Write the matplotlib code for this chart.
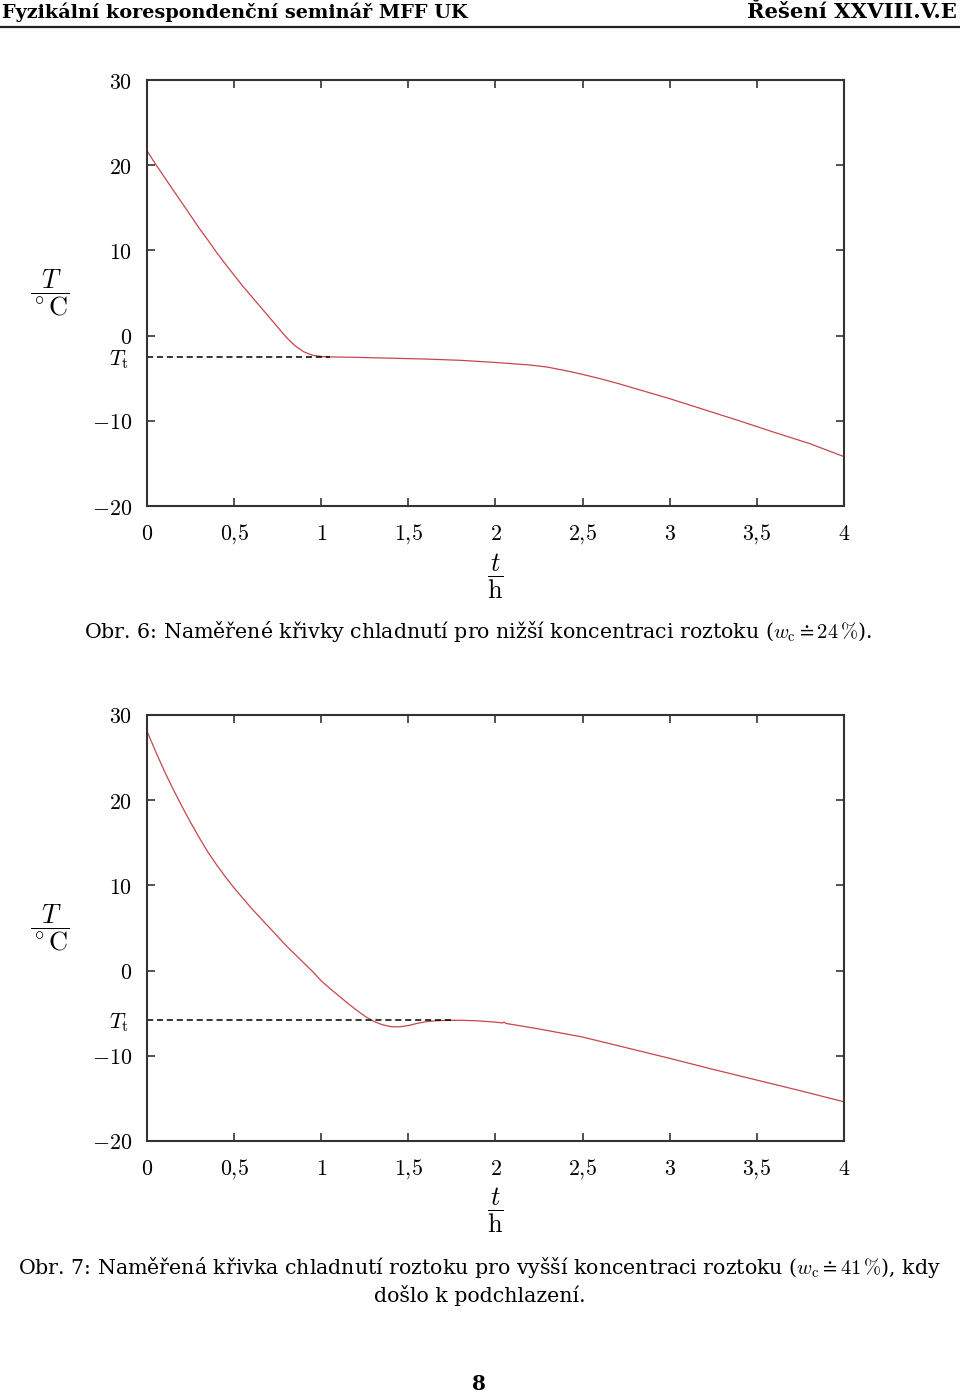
import matplotlib
matplotlib.use("Agg")
import matplotlib.pyplot as plt
import matplotlib.transforms as mtransforms

plt.rcParams['font.family'] = ['DejaVu Serif']
plt.rcParams['mathtext.fontset'] = 'cm'

# data
# Obr. 6 (lower concentration)
t1 = [0.0, 0.05, 0.1, 0.15, 0.2, 0.25, 0.3, 0.35, 0.4, 0.45, 0.5, 0.55, 0.6, 0.65,
      0.7, 0.75, 0.8, 0.85, 0.9, 0.95, 1.0, 1.05, 1.2, 1.4, 1.6, 1.8, 2.0, 2.1, 2.2,
      2.3, 2.4, 2.5, 2.6, 2.7, 2.8, 3.0, 3.2, 3.4, 3.6, 3.8, 4.0]
T1 = [21.7, 20.1, 18.6, 17.1, 15.6, 14.1, 12.6, 11.2, 9.75, 8.4, 7.1, 5.8, 4.6, 3.4,
      2.2, 1.0, -0.2, -1.2, -1.9, -2.3, -2.45, -2.5, -2.55, -2.65, -2.75, -2.9, -3.15, -3.3, -3.45,
      -3.7, -4.1, -4.55, -5.05, -5.6, -6.2, -7.4, -8.7, -10.0, -11.35, -12.65, -14.2]
Tt1 = -2.5
Tt1_end = 1.05

# Obr. 7 (higher concentration, supercooling)
t2 = [0.0, 0.05, 0.1, 0.15, 0.2, 0.25, 0.3, 0.35, 0.4, 0.45, 0.5, 0.55, 0.6, 0.65,
      0.7, 0.75, 0.8, 0.85, 0.9, 0.95, 1.0, 1.05, 1.1, 1.15, 1.2, 1.25, 1.3, 1.35,
      1.4, 1.45, 1.5, 1.55, 1.6, 1.65, 1.7, 1.8, 1.9, 2.0, 2.04, 2.05, 2.06, 2.25,
      2.5, 2.75, 3.0, 3.25, 3.5, 3.75, 4.0]
T2 = [28.1, 25.7, 23.4, 21.3, 19.3, 17.4, 15.6, 13.9, 12.4, 11.0, 9.7, 8.5, 7.3, 6.2,
      5.1, 4.0, 2.9, 1.9, 0.9, -0.1, -1.2, -2.1, -2.95, -3.8, -4.6, -5.35, -5.95, -6.35,
      -6.58, -6.6, -6.45, -6.2, -6.0, -5.9, -5.85, -5.83, -5.9, -6.05, -6.15, -6.05, -6.2, -6.85,
      -7.8, -9.05, -10.3, -11.6, -12.85, -14.1, -15.4]
Tt2 = -5.8
Tt2_end = 1.77

xticks = [0, 0.5, 1, 1.5, 2, 2.5, 3, 3.5, 4]
xticklabels = ['0', '0,5', '1', '1,5', '2', '2,5', '3', '3,5', '4']
yticks = [30, 20, 10, 0, -10, -20]

curve_color = '#c8464b'

fig = plt.figure(figsize=(9.6, 13.94), dpi=100)

# page header
fig.text(0.002, 0.9914, 'Fyzikální korespondenční seminář MFF UK', fontsize=13.9,
         fontweight='bold', ha='left', va='center')
fig.text(0.997, 0.9914, 'Řešení XXVIII.V.E', fontsize=15.2, fontweight='bold',
         ha='right', va='center')
fig.add_artist(plt.Line2D([0, 1], [0.9806, 0.9806], color='#222222', lw=1.6))


def draw_panel(ax, t, T, Tt, Tt_end):
    ax.plot(t, T, color=curve_color, lw=0.9)
    ax.plot([0, Tt_end], [Tt, Tt], color='black', lw=1.1, ls=(0, (4, 2.5)))
    ax.set_xlim(0, 4)
    ax.set_ylim(-20, 30)
    ax.set_xticks(xticks)
    ax.set_xticklabels(['$' + s.replace(',', '{,}') + '$' for s in xticklabels])
    ax.set_yticks(yticks)
    ax.set_yticklabels(['$' + str(v) + '$' for v in yticks])
    ax.tick_params(direction='in', length=6, width=1.1, top=True, right=True,
                   labelsize=15.8, color='#222222')
    ax.tick_params(axis='x', pad=12)
    ax.tick_params(axis='y', pad=11)
    for sp in ax.spines.values():
        sp.set_linewidth(1.5)
        sp.set_color('#333333')
    trans = mtransforms.blended_transform_factory(ax.transAxes, ax.transData)
    ax.text(-0.026, Tt - 0.3, r'$T_\mathrm{t}$', transform=trans, ha='right', va='center',
            fontsize=15.8)
    ax.text(-0.139, 0.5, r'$\dfrac{T}{{}^\circ\mathrm{C}}$', transform=ax.transAxes,
            ha='center', va='center', fontsize=19)
    ax.text(0.5, -0.164, r'$\dfrac{t}{\mathrm{h}}$', transform=ax.transAxes,
            ha='center', va='center', fontsize=19)


ax1 = fig.add_axes([0.1531, 0.6370, 0.7260, 0.3056])
draw_panel(ax1, t1, T1, Tt1, Tt1_end)

ax2 = fig.add_axes([0.1531, 0.1815, 0.7260, 0.3056])
draw_panel(ax2, t2, T2, Tt2, Tt2_end)

fig.text(0.498, 1 - 632 / 1394,
         r'Obr. 6: Naměřené křivky chladnutí pro nižší koncentraci roztoku ($w_\mathrm{c} \doteq 24\,\%$).',
         ha='center', va='center', fontsize=14.8)
fig.text(0.5, 1 - 1267 / 1394,
         r'Obr. 7: Naměřená křivka chladnutí roztoku pro vyšší koncentraci roztoku ($w_\mathrm{c} \doteq 41\,\%$), kdy',
         ha='center', va='center', fontsize=14.8)
fig.text(0.5, 1 - 1295 / 1394, 'došlo k podchlazení.', ha='center', va='center', fontsize=14.8)

fig.text(0.499, 1 - 1384 / 1394, '8', ha='center', va='center', fontsize=14.5, fontweight='bold')

fig.savefig('out.png', dpi=100)
